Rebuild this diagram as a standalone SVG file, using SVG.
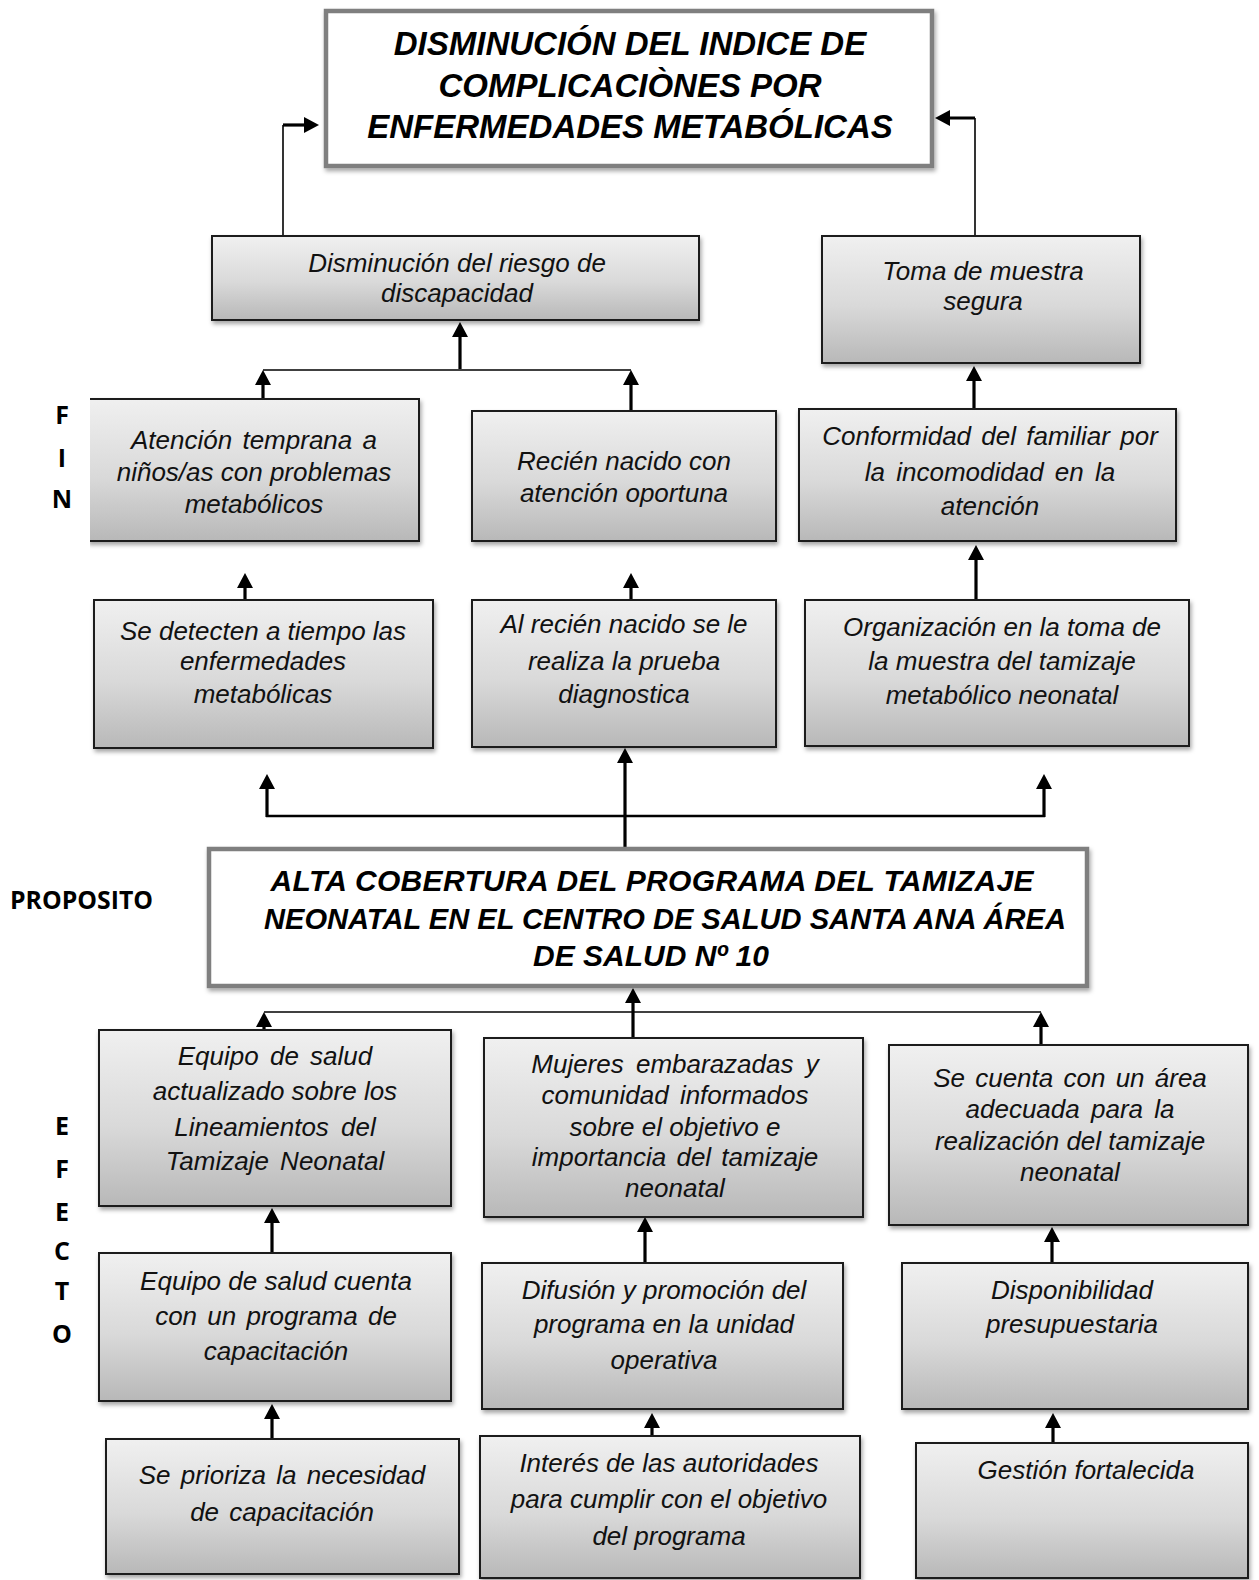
<svg xmlns="http://www.w3.org/2000/svg" width="1259" height="1580" viewBox="0 0 1259 1580">
<defs>
<linearGradient id="g" x1="0" y1="0" x2="0" y2="1">
<stop offset="0" stop-color="#f0f0f0"/>
<stop offset="0.55" stop-color="#d9d9d9"/>
<stop offset="1" stop-color="#b8b8b8"/>
</linearGradient>
<filter id="sh" x="-5%" y="-5%" width="112%" height="120%">
<feDropShadow dx="1.5" dy="3" stdDeviation="2" flood-color="#000" flood-opacity="0.35"/>
</filter>
<marker id="ah" viewBox="0 0 15 16" refX="11" refY="8" markerWidth="15" markerHeight="16" markerUnits="userSpaceOnUse" orient="auto">
<path d="M0,0 L15,8 L0,16 z" fill="#000"/>
</marker>
<style>
.box{fill:url(#g);stroke:#1a1a1a;stroke-width:2;filter:url(#sh)}
.tbox{fill:#fff;stroke:#7f7f7f;stroke-width:4.5;filter:url(#sh)}
.t{font-family:"Liberation Sans",Arial,sans-serif;font-style:italic;font-size:26px;text-anchor:middle;fill:#111}
.h{font-family:"Liberation Sans",Arial,sans-serif;font-style:italic;font-weight:bold;font-size:33px;text-anchor:middle;fill:#000}
.p{font-family:"Liberation Sans",Arial,sans-serif;font-style:italic;font-weight:bold;font-size:30px;text-anchor:middle;fill:#000}
.lab{font-family:"Open Sans","Liberation Sans",sans-serif;font-weight:bold;font-size:25px;text-anchor:middle;fill:#000}
.thin{fill:none;stroke:#000;stroke-width:1.6}
.thick{fill:none;stroke:#000;stroke-width:3.2}
.arr{fill:none;stroke:#000;stroke-width:3.2;marker-end:url(#ah)}
</style>
</defs>

<!-- side labels -->
<g id="label-fin">
<text class="lab" x="62" y="424">F</text>
<text class="lab" x="62" y="467">I</text>
<text class="lab" x="62" y="508">N</text>
</g>
<g id="label-proposito">
<text class="lab" x="10" y="909" style="text-anchor:start" textLength="143" lengthAdjust="spacingAndGlyphs">PROPOSITO</text>
</g>
<g id="label-efecto">
<text class="lab" x="62" y="1135">E</text>
<text class="lab" x="62" y="1178">F</text>
<text class="lab" x="62" y="1221">E</text>
<text class="lab" x="62" y="1260">C</text>
<text class="lab" x="62" y="1300">T</text>
<text class="lab" x="62" y="1343">O</text>
</g>

<!-- connectors -->
<g id="connectors">
<path class="thin" d="M283,236 V125"/>
<path class="arr" d="M283,125 H315"/>
<path class="thin" d="M975,236 V118"/>
<path class="arr" d="M975,118 H939"/>
<path class="thin" d="M263,370 H631"/>
<path class="arr" d="M460,369 V326"/>
<path class="arr" d="M263,399 V374"/>
<path class="arr" d="M631,411 V374"/>
<path class="arr" d="M974,409 V370"/>
<path class="arr" d="M245,600 V577"/>
<path class="arr" d="M631,600 V577"/>
<path class="arr" d="M976,600 V549"/>
<path class="arr" d="M625,849 V752"/>
<path class="thick" d="M266,816 H1045" style="stroke-width:2.6"/>
<path class="arr" d="M267,817 V778"/>
<path class="arr" d="M1044,817 V778"/>
<path class="thin" d="M264,1012 H1041"/>
<path class="arr" d="M633,1038 V992"/>
<path class="arr" d="M264,1030 V1016"/>
<path class="arr" d="M1041,1045 V1016"/>
<path class="arr" d="M272,1253 V1212"/>
<path class="arr" d="M645,1263 V1221"/>
<path class="arr" d="M1052,1263 V1231"/>
<path class="arr" d="M272,1439 V1408"/>
<path class="arr" d="M652,1436 V1417"/>
<path class="arr" d="M1053,1443 V1417"/>
</g>

<!-- top goal -->
<g id="n-fin">
<rect class="tbox" x="326" y="11" width="606" height="155"/>
<text class="h" x="630" y="55">DISMINUCIÓN DEL INDICE DE</text>
<text class="h" x="630" y="97">COMPLICACIÒNES POR</text>
<text class="h" x="630" y="138">ENFERMEDADES METABÓLICAS</text>
</g>

<g id="n-disminucion">
<rect class="box" x="212" y="236" width="487" height="84"/>
<text class="t" x="457" y="272">Disminución del riesgo de</text>
<text class="t" x="457" y="302">discapacidad</text>
</g>

<g id="n-toma">
<rect class="box" x="822" y="236" width="318" height="127"/>
<text class="t" x="983" y="280">Toma de muestra</text>
<text class="t" x="983" y="310">segura</text>
</g>

<g id="n-atencion">
<rect class="box" x="88" y="399" width="331" height="142"/>
<rect x="78" y="394" width="12" height="156" fill="#fff"/>
<text class="t" x="254" y="449" style="word-spacing:3px">Atención temprana a</text>
<text class="t" x="254" y="481">niños/as con problemas</text>
<text class="t" x="254" y="513">metabólicos</text>
</g>

<g id="n-recien">
<rect class="box" x="472" y="411" width="304" height="130"/>
<text class="t" x="624" y="470">Recién nacido con</text>
<text class="t" x="624" y="502">atención oportuna</text>
</g>

<g id="n-conformidad">
<rect class="box" x="799" y="409" width="377" height="132"/>
<text class="t" x="990" y="445" style="word-spacing:3px">Conformidad del familiar por</text>
<text class="t" x="990" y="481" style="word-spacing:4px">la incomodidad en la</text>
<text class="t" x="990" y="515">atención</text>
</g>

<g id="n-detecten">
<rect class="box" x="94" y="600" width="339" height="148"/>
<text class="t" x="263" y="640">Se detecten a tiempo las</text>
<text class="t" x="263" y="670">enfermedades</text>
<text class="t" x="263" y="703">metabólicas</text>
</g>

<g id="n-alrecien">
<rect class="box" x="472" y="600" width="304" height="147"/>
<text class="t" x="624" y="633">Al recién nacido se le</text>
<text class="t" x="624" y="670">realiza la prueba</text>
<text class="t" x="624" y="703">diagnostica</text>
</g>

<g id="n-organizacion">
<rect class="box" x="805" y="600" width="384" height="146"/>
<text class="t" x="1002" y="636">Organización en la toma de</text>
<text class="t" x="1002" y="670">la muestra del tamizaje</text>
<text class="t" x="1002" y="704">metabólico neonatal</text>
</g>

<g id="n-proposito">
<rect class="tbox" x="209" y="849" width="878" height="137"/>
<text class="p" x="652" y="891" textLength="763">ALTA COBERTURA DEL PROGRAMA DEL TAMIZAJE</text>
<text class="p" x="665" y="929" textLength="802" lengthAdjust="spacingAndGlyphs">NEONATAL EN EL CENTRO DE SALUD SANTA ANA ÁREA</text>
<text class="p" x="651" y="966">DE SALUD Nº 10</text>
</g>

<g id="n-equipo-act">
<rect class="box" x="99" y="1030" width="352" height="176"/>
<text class="t" x="275" y="1065" style="word-spacing:4px">Equipo de salud</text>
<text class="t" x="275" y="1100">actualizado sobre los</text>
<text class="t" x="275" y="1136" style="word-spacing:5px">Lineamientos del</text>
<text class="t" x="275" y="1170" style="word-spacing:4px">Tamizaje Neonatal</text>
</g>

<g id="n-mujeres">
<rect class="box" x="484" y="1038" width="379" height="179"/>
<text class="t" x="675" y="1073" style="word-spacing:5px">Mujeres embarazadas y</text>
<text class="t" x="675" y="1104" style="word-spacing:4px">comunidad informados</text>
<text class="t" x="675" y="1136">sobre el objetivo e</text>
<text class="t" x="675" y="1166" style="word-spacing:3px">importancia del tamizaje</text>
<text class="t" x="675" y="1197">neonatal</text>
</g>

<g id="n-secuenta">
<rect class="box" x="889" y="1045" width="359" height="180"/>
<text class="t" x="1070" y="1087" style="word-spacing:3px">Se cuenta con un área</text>
<text class="t" x="1070" y="1118" style="word-spacing:4px">adecuada para la</text>
<text class="t" x="1070" y="1150">realización del tamizaje</text>
<text class="t" x="1070" y="1181">neonatal</text>
</g>

<g id="n-equipo-cuenta">
<rect class="box" x="99" y="1253" width="352" height="148"/>
<text class="t" x="276" y="1290">Equipo de salud cuenta</text>
<text class="t" x="276" y="1325" style="word-spacing:3px">con un programa de</text>
<text class="t" x="276" y="1360">capacitación</text>
</g>

<g id="n-difusion">
<rect class="box" x="482" y="1263" width="361" height="146"/>
<text class="t" x="664" y="1299">Difusión y promoción del</text>
<text class="t" x="664" y="1333">programa en la unidad</text>
<text class="t" x="664" y="1369">operativa</text>
</g>

<g id="n-disponibilidad">
<rect class="box" x="902" y="1263" width="346" height="146"/>
<text class="t" x="1072" y="1299">Disponibilidad</text>
<text class="t" x="1072" y="1333">presupuestaria</text>
</g>

<g id="n-prioriza">
<rect class="box" x="106" y="1439" width="353" height="135"/>
<text class="t" x="282" y="1484" style="word-spacing:3px">Se prioriza la necesidad</text>
<text class="t" x="282" y="1521" style="word-spacing:3px">de capacitación</text>
</g>

<g id="n-interes">
<rect class="box" x="480" y="1436" width="380" height="142"/>
<text class="t" x="669" y="1472">Interés de las autoridades</text>
<text class="t" x="669" y="1508">para cumplir con el objetivo</text>
<text class="t" x="669" y="1545">del programa</text>
</g>

<g id="n-gestion">
<rect class="box" x="916" y="1443" width="332" height="135"/>
<text class="t" x="1086" y="1479">Gestión fortalecida</text>
</g>
</svg>
